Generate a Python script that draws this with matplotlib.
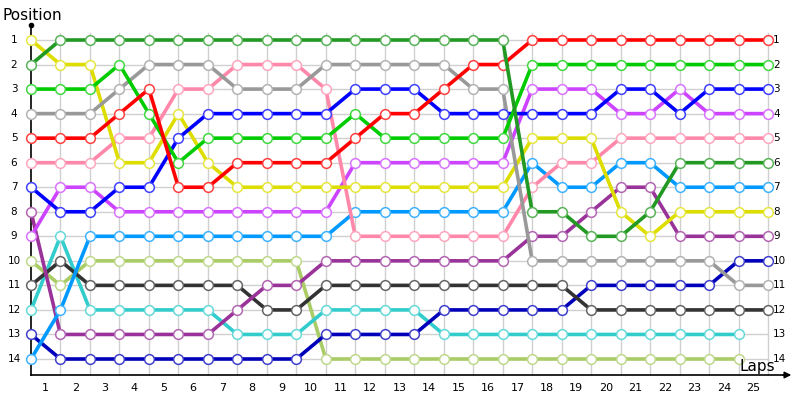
import numpy as np
import matplotlib
matplotlib.use("Agg")
import matplotlib.pyplot as plt
from matplotlib.colors import to_rgb

laps = list(range(0, 26))
positions = list(range(1, 15))
lap_labels = [str(i) for i in range(1, 26)]

# position per lap (lap 0 = start), None = no longer in race
dark_green = [2, 1, 1, 1, 1, 1, 1, 1, 1, 1, 1, 1, 1, 1, 1, 1, 1, 8, 8, 9, 9, 8, 6, 6, 6, 6]
red = [5, 5, 5, 4, 3, 7, 7, 6, 6, 6, 6, 5, 4, 4, 3, 2, 2, 1, 1, 1, 1, 1, 1, 1, 1, 1]
green = [3, 3, 3, 2, 4, 6, 5, 5, 5, 5, 5, 4, 5, 5, 5, 5, 5, 2, 2, 2, 2, 2, 2, 2, 2, 2]
yellow = [1, 2, 2, 6, 6, 4, 6, 7, 7, 7, 7, 7, 7, 7, 7, 7, 7, 5, 5, 5, 8, 9, 8, 8, 8, 8]
gray = [4, 4, 4, 3, 2, 2, 2, 3, 3, 3, 2, 2, 2, 2, 2, 3, 3, 10, 10, 10, 10, 10, 10, 10, 11, 11]
pink = [6, 6, 6, 5, 5, 3, 3, 2, 2, 2, 3, 9, 9, 9, 9, 9, 9, 7, 6, 6, 5, 5, 5, 5, 5, 5]
blue = [7, 8, 8, 7, 7, 5, 4, 4, 4, 4, 4, 3, 3, 3, 4, 4, 4, 4, 4, 4, 3, 3, 4, 3, 3, 3]
violet = [9, 7, 7, 8, 8, 8, 8, 8, 8, 8, 8, 6, 6, 6, 6, 6, 6, 3, 3, 3, 4, 4, 3, 4, 4, 4]
azure = [14, 12, 9, 9, 9, 9, 9, 9, 9, 9, 9, 8, 8, 8, 8, 8, 8, 6, 7, 7, 6, 6, 7, 7, 7, 7]
olive = [10, 11, 10, 10, 10, 10, 10, 10, 10, 10, 14, 14, 14, 14, 14, 14, 14, 14, 14, 14, 14, 14, 14, 14, 14, None]
dark = [11, 10, 11, 11, 11, 11, 11, 11, 12, 12, 11, 11, 11, 11, 11, 11, 11, 11, 11, 12, 12, 12, 12, 12, 12, 12]
turquoise = [12, 9, 12, 12, 12, 12, 12, 13, 13, 13, 12, 12, 12, 12, 13, 13, 13, 13, 13, 13, 13, 13, 13, 13, 13, None]
purple = [8, 13, 13, 13, 13, 13, 13, 12, 11, 11, 10, 10, 10, 10, 10, 10, 10, 9, 9, 8, 7, 7, 9, 9, 9, 9]
navy = [13, 14, 14, 14, 14, 14, 14, 14, 14, 14, 13, 13, 13, 13, 12, 12, 12, 12, 12, 11, 11, 11, 11, 11, 10, 10]

series = [
    (olive, "#aacc66"),
    (turquoise, "#33cccc"),
    (navy, "#0000bb"),
    (dark, "#333333"),
    (purple, "#993399"),
    (azure, "#0099ff"),
    (violet, "#cc44ff"),
    (pink, "#ff88aa"),
    (yellow, "#dddd00"),
    (gray, "#999999"),
    (blue, "#0000ff"),
    (green, "#00cc00"),
    (red, "#ff0000"),
    (dark_green, "#229922"),
]

fig = plt.figure(figsize=(8, 4), dpi=100)
ax = fig.add_axes([0, 0, 1, 1])
for s in ax.spines.values():
    s.set_visible(False)
ax.set_xticks([])
ax.set_yticks([])

# pixel -> data mapping
px_x = (768 - 31) / 25.0
px_y = (359 - 40) / 13.0
x0 = -31 / px_x
y0 = 1 - 40 / px_y
ax.set_xlim(x0, x0 + 800 / px_x)
ax.set_ylim(y0 + 400 / px_y, y0)

def fx(p):
    return x0 + p / px_x

def fy(p):
    return y0 + p / px_y

y_top = fy(33)
y_axis = fy(375)

# grid
for r in positions:
    ax.plot([0, 25], [r, r], color="#d0d0d0", lw=1, zorder=1)
for l in laps[1:]:
    ax.plot([l, l], [y_top, y_axis], color="#d0d0d0", lw=1, zorder=1)

# axes lines
ax.plot([0, 0], [fy(24), y_axis], color="black", lw=1.2, zorder=2)
ax.plot([0], [fy(25)], marker="o", ms=3, color="black", zorder=2)
ax.plot([0, fx(786)], [y_axis, y_axis], color="black", lw=1.2, zorder=2)
ax.annotate("", xy=(fx(794), y_axis), xytext=(fx(780), y_axis),
            arrowprops=dict(arrowstyle="-|>", color="black", lw=1, mutation_scale=10))

# series
for vals, col in series:
    y = np.array([np.nan if v is None else v for v in vals], dtype=float)
    rgb = np.array(to_rgb(col))
    edge = tuple(rgb + (1 - rgb) * 0.25)
    ax.plot(laps, y, color=col, lw=2.6, zorder=3,
            marker="o", ms=7, mfc="white", mec=edge, mew=1.1)

# labels
for i, lab in enumerate(lap_labels):
    ax.text(i + 0.5, fy(388), lab, ha="center", va="center", fontsize=8)
for r in positions:
    ax.text(fx(14), r, str(r), ha="center", va="center", fontsize=7.5)
    ax.text(fx(773), r, str(r), ha="left", va="center", fontsize=7.5)

ax.text(fx(3), fy(16), "Position", ha="left", va="center", fontsize=11)
ax.text(fx(775), fy(366), "Laps", ha="right", va="center", fontsize=11)

fig.savefig("out.png", dpi=100)
